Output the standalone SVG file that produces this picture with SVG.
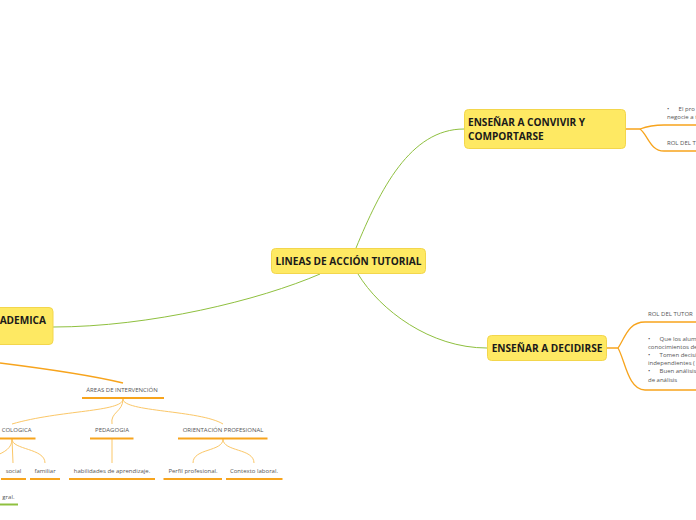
<svg xmlns="http://www.w3.org/2000/svg" width="696" height="520" viewBox="0 0 696 520">
<style>
.node{fill:#FEE963;stroke:#F3D64C;stroke-width:1}
.nt{font-family:"Open Sans","Noto Sans",sans-serif;font-weight:bold;font-size:10.1px;fill:#1a1a1a}
.st{font-family:"Open Sans","Noto Sans",sans-serif;font-size:6px;fill:#555;white-space:pre}
.g{fill:none;stroke:#8FC03F;stroke-width:1}
.o{fill:none;stroke:#F7A41D;stroke-width:1.3}
.ol{fill:none;stroke:#FBC768;stroke-width:1}
.u{fill:none;stroke:#F7A41D;stroke-width:2}
.ug{fill:none;stroke:#8FC03F;stroke-width:2}
</style>
<rect width="696" height="520" fill="#fff"/>
<g id="connectors">
<path class="g" d="M356,248 C380,190 410,129 464,129"/>
<path class="g" d="M358,274 C380,310 430,348 487,348"/>
<path class="g" d="M320,274 C260,300 150,327 53,327"/>
<path class="o" d="M626,129 L640,129 C648,126 654,125 664,125 L696,125"/>
<path class="o" d="M640,129 C648,135 650,151 664,151 L696,151"/>
<path class="o" d="M606,348 L618,348 C625,338 628,322 645,322 L696,322"/>
<path class="o" d="M618,348 C625,360 628,390 645,390 L696,390"/>
<path class="o" d="M0,363 C40,368 90,375 123,383"/>
<path class="ol" d="M123,399 C123,412 60,410 12,424"/>
<path class="ol" d="M123,399 C123,412 110,412 112,424"/>
<path class="ol" d="M123,399 C123,412 200,410 223,424"/>
<path class="ol" d="M12,439 C12,448 5,452 -5,456"/>
<path class="ol" d="M12,439 L13,463"/>
<path class="ol" d="M12,439 C12,450 45,448 45,463"/>
<path class="ol" d="M112,439 L112,463"/>
<path class="ol" d="M223,439 C223,452 193,448 193,463"/>
<path class="ol" d="M223,439 C223,452 254,448 254,463"/>
</g>
<g id="central">
<rect class="node" x="271.5" y="248.5" width="154" height="25" rx="4"/>
<text class="nt" x="348.5" y="265" text-anchor="middle">LINEAS DE ACCIÓN TUTORIAL</text>
</g>
<g id="convivir">
<rect class="node" x="464.5" y="109.5" width="161" height="39" rx="4"/>
<text class="nt" x="468" y="125.5">ENSEÑAR A CONVIVIR Y</text>
<text class="nt" x="468" y="140">COMPORTARSE</text>
</g>
<g id="decidirse">
<rect class="node" x="487.5" y="335.5" width="119" height="25" rx="4"/>
<text class="nt" x="547" y="352" text-anchor="middle">ENSEÑAR A DECIDIRSE</text>
</g>
<g id="academica">
<rect class="node" x="-10" y="307.5" width="63" height="37" rx="4"/>
<text class="nt" x="46" y="323.5" text-anchor="end">ADEMICA</text>
</g>
<g id="convivir-1">
<text class="st" x="667" y="111" xml:space="preserve">•      El pro</text>
<text class="st" x="667" y="119">negocie a t</text>
</g>
<g id="convivir-2">
<text class="st" x="667" y="145">ROL DEL T</text>
</g>
<g id="decidirse-1">
<text class="st" x="648" y="316">ROL DEL TUTOR</text>
</g>
<g id="decidirse-2">
<text class="st" x="648" y="341" xml:space="preserve">•      Que los alum</text>
<text class="st" x="648" y="349">conocimientos de</text>
<text class="st" x="648" y="357" xml:space="preserve">•      Tomen decisi</text>
<text class="st" x="648" y="365">independientes (</text>
<text class="st" x="648" y="373" xml:space="preserve">•      Buen análisis</text>
<text class="st" x="648" y="382">de análisis</text>
</g>
<g id="areas">
<text class="st" x="122" y="392" text-anchor="middle">ÁREAS DE INTERVENCIÓN</text>
<line class="u" x1="82" y1="398" x2="164" y2="398"/>
</g>
<g id="psicologica">
<text class="st" x="31.5" y="432" text-anchor="end">COLOGICA</text>
<line class="u" x1="-2" y1="438.5" x2="35.5" y2="438.5"/>
</g>
<g id="pedagogia">
<text class="st" x="112" y="432" text-anchor="middle">PEDAGOGIA</text>
<line class="u" x1="90" y1="438.5" x2="133.5" y2="438.5"/>
</g>
<g id="orientacion">
<text class="st" x="223" y="432" text-anchor="middle">ORIENTACIÓN PROFESIONAL</text>
<line class="u" x1="178" y1="438.5" x2="267.5" y2="438.5"/>
</g>
<g id="social">
<text class="st" x="13.5" y="473" text-anchor="middle">social</text>
<line class="u" x1="1" y1="479" x2="26" y2="479"/>
</g>
<g id="familiar">
<text class="st" x="45" y="473" text-anchor="middle">familiar</text>
<line class="u" x1="30" y1="479" x2="60" y2="479"/>
</g>
<g id="habilidades">
<text class="st" x="112" y="473" text-anchor="middle">habilidades de aprendizaje.</text>
<line class="u" x1="69" y1="479" x2="155" y2="479"/>
</g>
<g id="perfil">
<text class="st" x="193" y="473" text-anchor="middle">Perfil profesional.</text>
<line class="u" x1="163.5" y1="479" x2="222" y2="479"/>
</g>
<g id="contexto">
<text class="st" x="254" y="473" text-anchor="middle">Contexto laboral.</text>
<line class="u" x1="226" y1="479" x2="282.5" y2="479"/>
</g>
<g id="integral">
<text class="st" x="14.5" y="499" text-anchor="end">gral.</text>
<line class="ug" x1="-2" y1="504.5" x2="18" y2="504.5"/>
</g>
</svg>
